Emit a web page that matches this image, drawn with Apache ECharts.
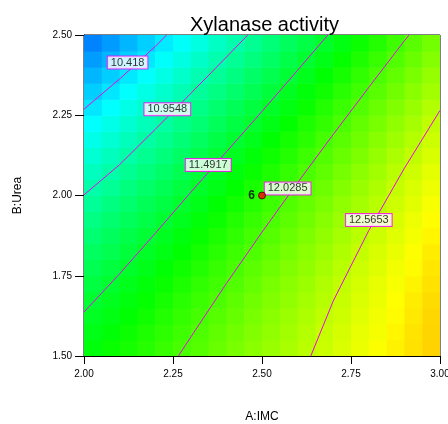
<!DOCTYPE html>
<html>
<head>
<meta charset="utf-8">
<script src="https://cdn.jsdelivr.net/npm/echarts@6/dist/echarts.min.js"></script>
<style>html,body{margin:0;padding:0;background:#fff;overflow:hidden}#c{width:448px;height:424px}</style>
</head>
<body>
<div id="c"></div>
<script>
// ---- data ----
var titleText = 'Xylanase activity';
var xName = 'A:IMC';
var yName = 'B:Urea';
var xTicks = [2.00, 2.25, 2.50, 2.75, 3.00];
var yTicks = [1.50, 1.75, 2.00, 2.25, 2.50];

// colour field: cell centres and estimated response (rows bottom -> top)
var xCenters = [2.025,2.075,2.125,2.175,2.225,2.275,2.325,2.375,2.425,2.475,2.525,2.575,2.625,2.675,2.725,2.775,2.825,2.875,2.925,2.975];
var yCenters = [1.525,1.575,1.625,1.675,1.725,1.775,1.825,1.875,1.925,1.975,2.025,2.075,2.125,2.175,2.225,2.275,2.325,2.375,2.425,2.475];
var activity = [
 [11.65,11.73,11.80,11.87,11.95,12.02,12.09,12.17,12.24,12.32,12.39,12.46,12.54,12.61,12.68,12.76,12.83,12.91,12.98,13.05],
 [11.60,11.67,11.75,11.83,11.90,11.98,12.05,12.13,12.21,12.28,12.36,12.43,12.51,12.59,12.66,12.74,12.81,12.89,12.97,13.04],
 [11.54,11.62,11.69,11.77,11.85,11.93,12.01,12.09,12.16,12.24,12.32,12.40,12.48,12.56,12.63,12.71,12.79,12.87,12.95,13.03],
 [11.48,11.56,11.64,11.72,11.80,11.88,11.96,12.04,12.12,12.20,12.28,12.36,12.44,12.52,12.60,12.68,12.76,12.85,12.93,13.01],
 [11.41,11.49,11.58,11.66,11.74,11.82,11.91,11.99,12.07,12.15,12.24,12.32,12.40,12.49,12.57,12.65,12.74,12.82,12.90,12.98],
 [11.34,11.42,11.51,11.59,11.68,11.77,11.85,11.94,12.02,12.11,12.19,12.28,12.36,12.45,12.53,12.62,12.70,12.79,12.87,12.96],
 [11.27,11.35,11.44,11.53,11.62,11.70,11.79,11.88,11.97,12.05,12.14,12.23,12.32,12.40,12.49,12.58,12.67,12.75,12.84,12.93],
 [11.19,11.28,11.37,11.46,11.55,11.64,11.73,11.82,11.91,12.00,12.09,12.18,12.27,12.36,12.45,12.54,12.63,12.71,12.80,12.89],
 [11.11,11.20,11.29,11.38,11.48,11.57,11.66,11.75,11.85,11.94,12.03,12.12,12.21,12.31,12.40,12.49,12.58,12.67,12.77,12.86],
 [11.02,11.12,11.21,11.31,11.40,11.50,11.59,11.69,11.78,11.87,11.97,12.06,12.16,12.25,12.35,12.44,12.53,12.63,12.72,12.82],
 [10.94,11.03,11.13,11.23,11.32,11.42,11.52,11.61,11.71,11.81,11.90,12.00,12.10,12.19,12.29,12.39,12.48,12.58,12.68,12.77],
 [10.84,10.94,11.04,11.14,11.24,11.34,11.44,11.54,11.64,11.74,11.83,11.93,12.03,12.13,12.23,12.33,12.43,12.53,12.63,12.73],
 [10.75,10.85,10.95,11.05,11.15,11.26,11.36,11.46,11.56,11.66,11.76,11.86,11.97,12.07,12.17,12.27,12.37,12.47,12.57,12.67],
 [10.65,10.75,10.86,10.96,11.06,11.17,11.27,11.38,11.48,11.58,11.69,11.79,11.89,12.00,12.10,12.20,12.31,12.41,12.51,12.62],
 [10.55,10.65,10.76,10.87,10.97,11.08,11.18,11.29,11.40,11.50,11.61,11.71,11.82,11.92,12.03,12.14,12.24,12.35,12.45,12.56],
 [10.44,10.55,10.66,10.77,10.88,10.99,11.09,11.20,11.31,11.42,11.53,11.63,11.74,11.85,11.96,12.07,12.18,12.28,12.39,12.50],
 [10.33,10.44,10.56,10.67,10.78,10.89,11.00,11.11,11.22,11.33,11.44,11.55,11.66,11.77,11.88,11.99,12.10,12.21,12.32,12.43],
 [10.22,10.33,10.45,10.56,10.67,10.79,10.90,11.01,11.12,11.24,11.35,11.46,11.58,11.69,11.80,11.91,12.03,12.14,12.25,12.37],
 [10.11,10.22,10.34,10.45,10.57,10.68,10.80,10.91,11.03,11.14,11.26,11.37,11.49,11.60,11.72,11.83,11.95,12.06,12.18,12.29],
 [9.99,10.10,10.22,10.34,10.46,10.57,10.69,10.81,10.92,11.04,11.16,11.28,11.39,11.51,11.63,11.75,11.86,11.98,12.10,12.22]
];

// contour levels and points
var levels = ['10.418', '10.9548', '11.4917', '12.0285', '12.5653'];
var contour1 = [[2.0,2.269],[2.1,2.363],[2.2,2.464],[2.232,2.5]];
var contour2 = [[2.0,2.002],[2.1,2.096],[2.2,2.206],[2.3,2.318],[2.4,2.431],[2.46,2.5]];
var contour3 = [[2.0,1.637],[2.1,1.756],[2.2,1.882],[2.3,2.01],[2.4,2.136],[2.5,2.262],[2.6,2.39],[2.685,2.5]];
var contour4 = [[2.265,1.5],[2.3,1.559],[2.4,1.726],[2.5,1.886],[2.6,2.04],[2.7,2.19],[2.8,2.337],[2.9,2.482],[2.913,2.5]];
var contour5 = [[2.637,1.5],[2.7,1.671],[2.8,1.891],[2.9,2.085],[3.0,2.265]];
var contours = [contour1, contour2, contour3, contour4, contour5];
// label anchor points (data coords) for each level
var labelX = [2.1225, 2.234, 2.349, 2.572, 2.800];
var labelY = [2.414, 2.269, 2.095, 2.022, 1.924];

// design point
var designPoint = [2.5, 2.0];
var designCount = '6';

// ---- build chart ----
var cells = [];
for (var r = 0; r < yCenters.length; r++) {
  for (var c = 0; c < xCenters.length; c++) {
    cells.push([xCenters[c], yCenters[r], activity[r][c]]);
  }
}
var halfX = (xCenters[1] - xCenters[0]) / 2;
var halfY = (yCenters[1] - yCenters[0]) / 2;

var FONT = 'Liberation Sans, Arial, sans-serif';
var series = [{
  type: 'custom',
  data: cells,
  encode: { x: 0, y: 1 },
  clip: true,
  silent: true,
  z: 1,
  renderItem: function (params, api) {
    var x = api.value(0), y = api.value(1);
    var p0 = api.coord([x - halfX, y + halfY]);
    var p1 = api.coord([x + halfX, y - halfY]);
    return {
      type: 'rect',
      shape: { x: p0[0], y: p0[1], width: p1[0] - p0[0] + 0.6, height: p1[1] - p0[1] + 0.6 },
      style: { fill: api.visual('color'), stroke: null }
    };
  }
}];
contours.forEach(function (pts) {
  series.push({
    type: 'line', data: pts, smooth: false, symbol: 'none', silent: true, z: 3, clip: true,
    lineStyle: { color: '#ee00ee', width: 1 }
  });
});
series.push({
  type: 'scatter', z: 5, silent: true, symbolSize: 1,
  itemStyle: { color: 'rgba(0,0,0,0)' },
  data: levels.map(function (t, i) { return [labelX[i], labelY[i], t]; }),
  label: {
    show: true, position: 'inside',
    formatter: function (p) { return p.value[2]; },
    fontFamily: FONT, fontSize: 11, color: '#000',
    backgroundColor: '#fff', borderColor: '#ff00ff', borderWidth: 1,
    padding: [1, 3, 0, 3]
  },
  labelLayout: { hideOverlap: false }
});
series.push({
  type: 'scatter', z: 6, silent: true, symbolSize: 7,
  itemStyle: { color: '#ff0000', borderColor: '#400000', borderWidth: 1 },
  data: [[designPoint[0], designPoint[1], designCount]],
  label: {
    show: true, position: 'left', distance: 3,
    formatter: function (p) { return p.value[2]; },
    fontFamily: FONT, fontSize: 12, fontWeight: 'bold', color: '#000'
  }
});

var chart = echarts.init(document.getElementById('c'), null, { renderer: 'canvas' });
chart.setOption({
  backgroundColor: '#fff',
  animation: false,
  title: {
    text: titleText, left: 185, top: 10,
    textStyle: { fontFamily: FONT, fontSize: 20, fontWeight: 'normal', color: '#000' }
  },
  grid: { left: 84, top: 35, right: 8, bottom: 68, show: true, borderColor: '#000', borderWidth: 1, backgroundColor: 'transparent', outerBoundsMode: 'none', containLabel: false },
  visualMap: {
    show: false, type: 'continuous', dimension: 2, seriesIndex: 0,
    min: 9.4, max: 14.0,
    inRange: { color: ['#0000ff', '#00ffff', '#00ff00', '#ffff00', '#ff0000'] }
  },
  xAxis: {
    type: 'value', min: xTicks[0], max: xTicks[xTicks.length - 1], interval: xTicks[1] - xTicks[0],
    name: xName, nameLocation: 'middle', nameGap: 55,
    nameTextStyle: { fontFamily: FONT, fontSize: 12, color: '#000' },
    axisLine: { show: true, lineStyle: { color: '#000', width: 1 } },
    axisTick: { show: true, length: 8, lineStyle: { color: '#000' } },
    axisLabel: { fontFamily: FONT, fontSize: 10, color: '#000', margin: 13, formatter: function (v) { return v.toFixed(2); } },
    splitLine: { show: false }
  },
  yAxis: {
    type: 'value', min: yTicks[0], max: yTicks[yTicks.length - 1], interval: yTicks[1] - yTicks[0],
    name: yName, nameLocation: 'middle', nameGap: 60, nameRotate: 90,
    nameTextStyle: { fontFamily: FONT, fontSize: 12, color: '#000' },
    axisLine: { show: true, lineStyle: { color: '#000', width: 1 } },
    axisTick: { show: true, length: 9, lineStyle: { color: '#000' } },
    axisLabel: { fontFamily: FONT, fontSize: 10, color: '#000', margin: 12, formatter: function (v) { return v.toFixed(2); } },
    splitLine: { show: false }
  },
  series: series
});
</script>
</body>
</html>
